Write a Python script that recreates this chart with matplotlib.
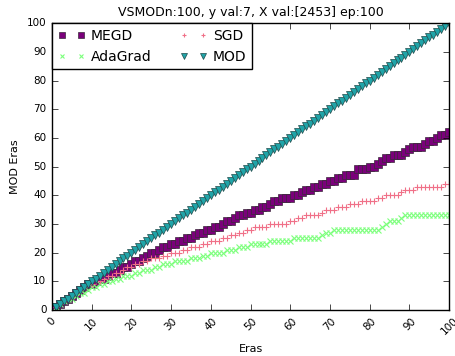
import matplotlib

matplotlib.use("Agg")
import matplotlib.pyplot as plt

plt.style.use("classic")

epochs = list(range(1, 101))

mod = list(range(1, 101))
megd = [1, 2, 3, 4, 5, 6, 7, 8, 9, 9,
        10, 11, 11, 12, 13, 13, 14, 15, 15, 16,
        17, 17, 18, 19, 20, 20, 21, 22, 22, 23,
        23, 24, 24, 25, 25, 26, 27, 27, 28, 28,
        29, 29, 30, 31, 31, 32, 33, 33, 34, 34,
        35, 35, 36, 36, 37, 38, 38, 39, 39, 39,
        40, 40, 41, 42, 42, 43, 43, 44, 44, 45,
        45, 46, 46, 47, 47, 47, 49, 49, 49, 50,
        50, 51, 52, 53, 53, 54, 54, 54, 55, 56,
        57, 57, 57, 58, 59, 59, 60, 61, 61, 62]
sgd = [1, 2, 3, 4, 5, 6, 7, 8, 9, 9,
       10, 10, 11, 12, 12, 13, 13, 14, 15, 15,
       16, 16, 17, 17, 18, 18, 18, 19, 19, 20,
       20, 20, 21, 21, 22, 22, 22, 23, 23, 24,
       24, 24, 25, 25, 26, 26, 27, 27, 28, 28,
       29, 29, 29, 29, 30, 30, 30, 30, 30, 31,
       31, 32, 32, 33, 33, 33, 33, 34, 35, 35,
       35, 36, 36, 36, 37, 37, 37, 38, 38, 38,
       38, 39, 39, 40, 40, 40, 40, 41, 42, 42,
       42, 43, 43, 43, 43, 43, 43, 43, 44, 44]
adagrad = [1, 2, 3, 4, 4, 5, 6, 6, 7, 8,
           8, 9, 9, 10, 10, 11, 11, 12, 12, 12,
           13, 13, 14, 14, 14, 15, 15, 16, 16, 16,
           17, 17, 17, 17, 18, 18, 18, 19, 19, 20,
           20, 20, 20, 21, 21, 21, 22, 22, 22, 23,
           23, 23, 23, 23, 24, 24, 24, 24, 24, 24,
           25, 25, 25, 25, 25, 25, 25, 26, 27, 27,
           28, 28, 28, 28, 28, 28, 28, 28, 28, 28,
           28, 28, 29, 30, 31, 31, 31, 32, 33, 33,
           33, 33, 33, 33, 33, 33, 33, 33, 33, 33]

fig = plt.figure(figsize=(4.56, 3.56), dpi=100)
ax = fig.add_axes([0.114, 0.129, 0.871, 0.806])

edge = dict(markeredgewidth=0.5, linestyle="none")
ax.plot(epochs, megd, marker="s", markersize=5.5, color="#7a007a",
        markeredgecolor="#3a2a3a", label="MEGD", **edge)
ax.plot(epochs, adagrad, marker="x", markersize=4.5, color="#7cff7c",
        markeredgewidth=0.8, linestyle="none", label="AdaGrad")
ax.plot(epochs, sgd, marker="+", markersize=5, color="#f07088",
        markeredgewidth=0.8, linestyle="none", label="SGD")
ax.plot(epochs, mod, marker="v", markersize=5.5, color="#20a4a8",
        markeredgecolor="#204a4a", label="MOD", **edge)

ax.set_xlim(0, 100)
ax.set_ylim(0, 100)
ax.set_xticks(range(0, 101, 10))
ax.set_yticks(range(0, 101, 10))
ax.tick_params(labelsize=7.5, direction="in")
plt.setp(ax.get_xticklabels(), rotation=45)
ax.set_xlabel("Eras", fontsize=8)
ax.set_ylabel("MOD Eras", fontsize=8)
ax.set_title("VSMODn:100, y val:7, X val:[2453] ep:100", fontsize=9)

ax.legend(loc="upper left", ncol=2, numpoints=2, fontsize=10,
          borderaxespad=0, handletextpad=0.4, columnspacing=2.0,
          handlelength=2.0, markerscale=0.7, fancybox=False)

fig.savefig("out.png", dpi=100)
